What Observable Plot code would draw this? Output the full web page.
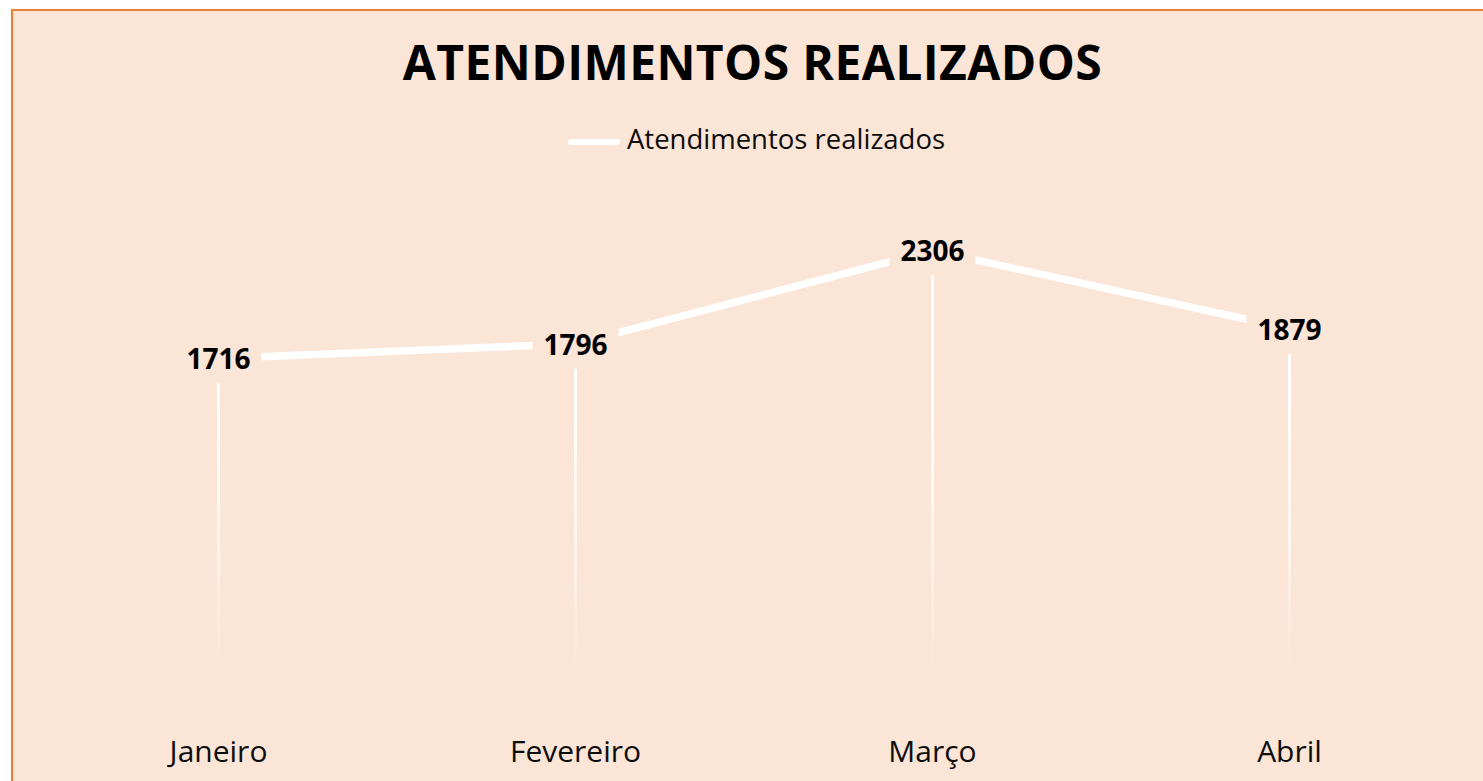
<!DOCTYPE html>
<html>
<head>
<meta charset="utf-8">
<script src="https://cdn.jsdelivr.net/npm/d3@7"></script>
<script src="https://cdn.jsdelivr.net/npm/@observablehq/plot@0.6"></script>
<style>
  html, body { margin: 0; padding: 0; background: #ffffff; overflow: hidden; }
  #frame {
    position: absolute; left: 11px; top: 9px;
    width: 1479px; height: 800px;
    background: #FBE5D6;
    border-top: 2px solid #ED7D31; border-left: 2px solid #ED7D31;
    font-family: "Open Sans", sans-serif;
  }
  #title {
    height: 100px; line-height: 102px; text-align: center;
    font-size: 48px; font-weight: 700; letter-spacing: 0.4px; color: #000;
  }
  #legend {
    height: 60px; line-height: 56px; text-align: center;
    font-size: 27.5px; color: #0d0d0d; padding-left: 8px; box-sizing: border-box;
  }
  #legend .swatch {
    display: inline-block; width: 52px; height: 6px; background: #ffffff;
    vertical-align: middle; margin-right: 7px; border-radius: 3px;
  }
</style>
</head>
<body>
<div id="frame">
  <div id="title"></div>
  <div id="legend"></div>
  <div id="chart"></div>
</div>
<script>
const chartTitle = "ATENDIMENTOS REALIZADOS";
const seriesName = "Atendimentos realizados";
const months = ["Janeiro", "Fevereiro", "Março", "Abril"];
const values = [1716, 1796, 2306, 1879];

const bg = "#FBE5D6";
const data = months.map((m, i) => ({month: m, value: values[i]}));

document.getElementById("title").textContent = chartTitle;
const leg = document.getElementById("legend");
const sw = document.createElement("span");
sw.className = "swatch";
leg.appendChild(sw);
leg.appendChild(document.createTextNode(seriesName));

const gradientDefs = (index, scales, values, dimensions, context) => {
  const defs = d3.create("svg:defs");
  const g = defs.append("linearGradient")
    .attr("id", "dropfade")
    .attr("gradientUnits", "userSpaceOnUse")
    .attr("x1", 0).attr("x2", 0)
    .attr("y1", scales.y(1600)).attr("y2", scales.y(0));
  g.append("stop").attr("offset", "0%").attr("stop-color", "#ffffff").attr("stop-opacity", 1);
  g.append("stop").attr("offset", "55%").attr("stop-color", "#ffffff").attr("stop-opacity", 0.6);
  g.append("stop").attr("offset", "100%").attr("stop-color", "#ffffff").attr("stop-opacity", 0);
  return defs.node();
};

const labelBox = { draw(ctx) { ctx.rect(-43, -23, 86, 46); } };

const plot = Plot.plot({
  width: 1479,
  height: 611,
  marginLeft: 26.5,
  marginRight: 24.5,
  marginTop: 43.5,
  marginBottom: 110,
  style: { background: "transparent", fontFamily: "Open Sans, sans-serif", color: "#000" },
  x: { type: "point", domain: months, padding: 0.5 },
  y: { domain: [0, 2500], axis: null },
  marks: [
    gradientDefs,
    Plot.ruleX(data, { x: "month", y1: 0, y2: "value", stroke: "url(#dropfade)", strokeWidth: 3 }),
    Plot.line(data, { x: "month", y: "value", stroke: "#ffffff", strokeWidth: 7.5, strokeLinecap: "butt" }),
    Plot.dot(data, { x: "month", y: "value", symbol: labelBox, fill: bg, stroke: "none", r: 10, dy: 2 }),
    Plot.text(data, { x: "month", y: "value", text: d => String(d.value), fontSize: 28, fontWeight: "bold", fill: "#000", dy: 2 }),
    Plot.axisX({ tickSize: 0, tickPadding: 68, fontSize: 30, label: null, fill: "#0d0d0d" })
  ]
});
document.getElementById("chart").appendChild(plot);
</script>
</body>
</html>
